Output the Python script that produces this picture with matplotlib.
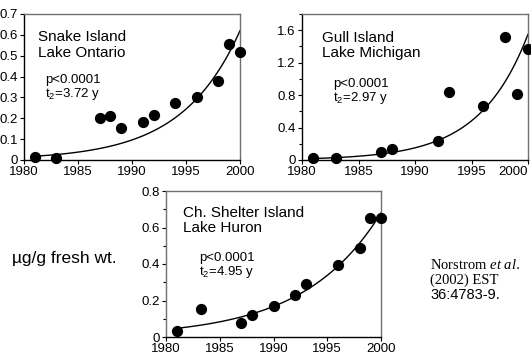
import numpy as np
import matplotlib
matplotlib.use("Agg")
import matplotlib.pyplot as plt
from matplotlib.ticker import MultipleLocator

plt.rcParams["font.family"] = ["Liberation Sans", "DejaVu Sans"]
plt.rcParams["mathtext.fontset"] = "custom"
plt.rcParams["mathtext.rm"] = "Liberation Sans"
plt.rcParams["mathtext.it"] = "Liberation Serif:italic"

# Snake Island, Lake Ontario
snake_years = [1981, 1983, 1987, 1988, 1989, 1991, 1992, 1994, 1996, 1998, 1999, 2000]
snake_vals = [0.015, 0.01, 0.2, 0.21, 0.155, 0.18, 0.215, 0.275, 0.30, 0.38, 0.555, 0.52]
snake_t2 = 3.72
snake_end = 0.62

# Gull Island, Lake Michigan
gull_years = [1981, 1983, 1987, 1988, 1992, 1993, 1996, 1998, 1999, 2000]
gull_vals = [0.02, 0.02, 0.1, 0.13, 0.23, 0.84, 0.66, 1.52, 0.81, 1.37]
gull_t2 = 2.97
gull_end = 1.55

# Channel Shelter Island, Lake Huron
huron_years = [1981, 1983.3, 1987, 1988, 1990, 1992, 1993, 1996, 1998, 1999, 2000]
huron_vals = [0.035, 0.155, 0.075, 0.12, 0.17, 0.23, 0.29, 0.395, 0.49, 0.65, 0.65]
huron_t2 = 4.95
huron_end = 0.68

year_ticks = [1980, 1985, 1990, 1995, 2000]

W, H = 531, 358
fig = plt.figure(figsize=(W / 100, H / 100), dpi=100)


def panel(left, right, top, bottom, years, vals, t2, end, ymax, major, minor,
          name, lake, name_xy, stats_xy):
    ax = fig.add_axes([left / W, 1 - bottom / H, (right - left) / W, (bottom - top) / H])
    xs = np.linspace(1981, 2000, 100)
    ax.plot(xs, end * 2 ** ((xs - 2000) / t2), color="black", lw=1)
    ax.scatter(years, vals, s=50, color="black", zorder=3, clip_on=False)
    ax.set_xlim(1980, 2000)
    ax.set_ylim(0, ymax)
    ax.set_xticks(year_ticks, [str(y) for y in year_ticks])
    ax.yaxis.set_major_locator(MultipleLocator(major))
    if minor:
        ax.yaxis.set_minor_locator(MultipleLocator(minor))
    ax.tick_params(length=3, width=0.8, pad=1.5, labelsize=9.5)
    ax.tick_params(which="minor", length=2, width=0.8)
    ax.yaxis.set_major_formatter(plt.FuncFormatter(lambda v, p: "0" if v == 0 else f"{v:g}"))
    for s in ["top", "right"]:
        ax.spines[s].set_color("#707070")
    for s in ax.spines.values():
        s.set_linewidth(1)
    ax.text(name_xy[0], name_xy[1], name + "\n" + lake, transform=ax.transAxes,
            fontsize=11, va="top", ha="left", linespacing=1.15)
    ax.text(stats_xy[0], stats_xy[1], "p<0.0001\n$\\mathregular{t_2}$=" + f"{t2:.2f} y",
            transform=ax.transAxes, fontsize=9.5, va="top", ha="left", linespacing=1.0)
    return ax


panel(24, 240, 14, 160, snake_years, snake_vals, snake_t2, snake_end, 0.7, 0.1, None,
      "Snake Island", "Lake Ontario", (0.065, 0.89), (0.097, 0.59))
ax2 = panel(302, 528, 14, 160, gull_years, gull_vals, gull_t2, gull_end, 1.8, 0.4, 0.2,
            "Gull Island", "Lake Michigan", (0.088, 0.885), (0.137, 0.56))
ax3 = panel(166, 381, 191, 337, huron_years, huron_vals, huron_t2, huron_end, 0.8, 0.2, 0.1,
            "Ch. Shelter Island", "Lake Huron", (0.079, 0.9), (0.153, 0.585))
ax3.spines["left"].set_color("#707070")

# keep the last year label of the right panel inside the figure
ax2.xaxis.get_major_ticks()[-1].label1.set_horizontalalignment("right")

fig.text(12 / W, 1 - 259 / H, "\u00b5g/g fresh wt.", fontsize=12.5, va="center", ha="left")
fig.text(430 / W, 1 - 265 / H, "Norstrom $\\it{et\\ al.}$", fontsize=10.5, va="center",
         ha="left", family="Liberation Serif")
fig.text(430 / W, 1 - 280 / H, "(2002) EST", fontsize=10.5, va="center", ha="left",
         family="Liberation Serif")
fig.text(430 / W, 1 - 295 / H, "36:4783-9.", fontsize=10.5, va="center", ha="left")

fig.savefig("out.png", dpi=100)
